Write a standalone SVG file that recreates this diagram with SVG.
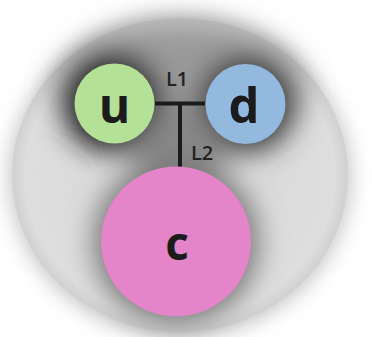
<svg xmlns="http://www.w3.org/2000/svg" width="372" height="337" viewBox="0 0 372 337">
  <style>
    .node-label { font-family: "Open Sans", "Liberation Sans", sans-serif; font-weight: 700; fill: #1b1b1b; text-anchor: middle; }
    .link-label { font-family: "Open Sans", "Liberation Sans", sans-serif; font-weight: 600; font-size: 20px; fill: #222; }
    .link { stroke: #1b1b1b; stroke-width: 4; fill: none; stroke-linecap: butt; }
  </style>
  <defs>
    <filter id="softOuter" x="-30%" y="-30%" width="160%" height="160%">
      <feGaussianBlur stdDeviation="10"/>
    </filter>
    <filter id="halo" x="-50%" y="-50%" width="200%" height="200%">
      <feGaussianBlur stdDeviation="14"/>
    </filter>
    <radialGradient id="discFill" cx="50%" cy="50%" r="50%">
      <stop offset="0" stop-color="#d6d6d6"/>
      <stop offset="0.92" stop-color="#dedede"/>
      <stop offset="1" stop-color="#d0d0d0"/>
    </radialGradient>
  </defs>

  <rect width="372" height="337" fill="#ffffff"/>

  <!-- backdrop disc with soft surrounding shadow -->
  <g id="backdrop">
    <ellipse cx="180" cy="177" rx="171" ry="160" fill="#b4b4b4" filter="url(#softOuter)" opacity="0.75"/>
    <ellipse cx="180" cy="175" rx="168" ry="157" fill="url(#discFill)"/>
    <!-- dark halo behind the nodes -->
    <g filter="url(#halo)">
      <ellipse cx="180" cy="92" rx="125" ry="72" fill="#8e8e8e" opacity="0.85"/>
      <circle cx="112" cy="102" r="50" fill="#1a1a1a"/>
      <circle cx="247" cy="104" r="48" fill="#363636"/>
      <ellipse cx="180" cy="145" rx="45" ry="40" fill="#858585" opacity="0.8"/>
      <circle cx="176" cy="242" r="82" fill="#777777"/>
    </g>
  </g>

  <!-- connectors -->
  <g id="connectors">
    <path class="link" d="M155 103.5 H205"/>
    <path class="link" d="M180 103.5 V171"/>
    <text class="link-label" x="166" y="86">L1</text>
    <text class="link-label" x="191" y="160">L2</text>
  </g>

  <g id="node-u">
    <circle cx="114.5" cy="103.5" r="40" fill="#b4e097"/>
    <text class="node-label" x="114.5" y="123" font-size="48">u</text>
  </g>

  <g id="node-d">
    <circle cx="245.5" cy="104" r="40" fill="#93b9de"/>
    <text class="node-label" x="244" y="123" font-size="49">d</text>
  </g>

  <g id="node-c">
    <circle cx="176" cy="241.5" r="75" fill="#e385c8"/>
    <text class="node-label" x="177" y="260" font-size="46">c</text>
  </g>
</svg>
